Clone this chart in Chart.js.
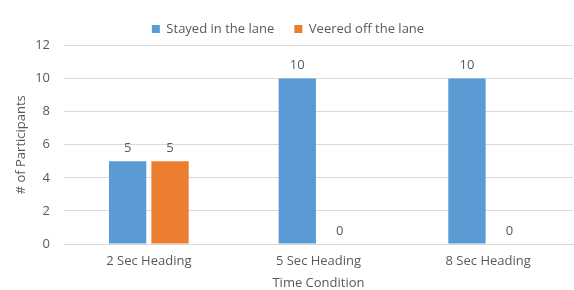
<!DOCTYPE html>
<html>
<head>
<meta charset="utf-8">
<script src="https://cdn.jsdelivr.net/npm/chart.js@4"></script>
<style>
  html, body { margin: 0; padding: 0; background: #fff; }
  #wrap { width: 574px; height: 290px; }
</style>
</head>
<body>
<div id="wrap"><canvas id="myChart"></canvas></div>
<script>
"use strict"

// DATA
const categories = ['2 Sec Heading', '5 Sec Heading', '8 Sec Heading'];
const stayed = [5, 10, 10];
const veered = [5, 0, 0];
const yTicks = [0, 2, 4, 6, 8, 10, 12];

const grey = '#595959';
const font = { family: 'Open Sans', size: 13, lineHeight: 1 };

// draws the number on top of each bar
const valueLabels = {
    id: 'valueLabels',
    afterDatasetsDraw(chart) {
        const ctx = chart.ctx;
        ctx.save();
        ctx.fillStyle = grey;
        ctx.font = '13px "Open Sans"';
        ctx.textAlign = 'center';
        ctx.textBaseline = 'middle';
        chart.data.datasets.forEach((ds, i) => {
            chart.getDatasetMeta(i).data.forEach((bar, j) => {
                ctx.fillText(ds.data[j], bar.x, bar.y - 13);
            });
        });
        ctx.restore();
    }
};

const config = {
    type: 'bar',
    data: {
        labels: categories,
        datasets: [{
            label: 'Stayed in the lane',
            data: stayed,
            backgroundColor: '#5b9bd5',
            categoryPercentage: 0.5,
            barPercentage: 0.88
        }, {
            label: 'Veered off the lane',
            data: veered,
            backgroundColor: '#ed7d31',
            categoryPercentage: 0.5,
            barPercentage: 0.88
        }]
    },
    options: {
        responsive: true,
        maintainAspectRatio: false,
        animation: false,
        layout: { padding: { left: 3, right: 1, top: 0.5, bottom: 0.5 } },
        plugins: {
            tooltip: { enabled: false },
            legend: {
                position: 'top',
                labels: {
                    boxWidth: 8,
                    boxHeight: 8,
                    color: grey,
                    font: font,
                    padding: 10,
                    // extra room between the two legend entries
                    generateLabels(chart) {
                        const items = Chart.defaults.plugins.legend.labels.generateLabels(chart);
                        items[0].text += '   ';
                        return items;
                    }
                }
            }
        },
        scales: {
            x: {
                grid: { display: false, drawTicks: false },
                border: { color: '#d9d9d9' },
                ticks: { color: grey, font: font, padding: 10.5 },
                title: { display: true, text: 'Time Condition', color: grey, font: font, padding: { top: 8, bottom: 0 } },
                afterFit(axis) { axis.height = 45.5; }
            },
            y: {
                min: 0,
                max: 12,
                afterBuildTicks(axis) {
                    axis.ticks = yTicks.map(v => ({ value: v }));
                },
                afterFit(axis) {
                    axis.width = 61;
                    axis.paddingTop = 45.5;
                },
                grid: { color: '#d9d9d9', drawTicks: false },
                border: { display: false },
                ticks: { color: grey, font: font, padding: 14 },
                title: { display: true, text: '# of Participants', color: grey, font: font, padding: { top: 12, bottom: 5 } }
            }
        }
    },
    plugins: [valueLabels]
};

const myChart = new Chart(document.getElementById('myChart'), config);
</script>
</body>
</html>
